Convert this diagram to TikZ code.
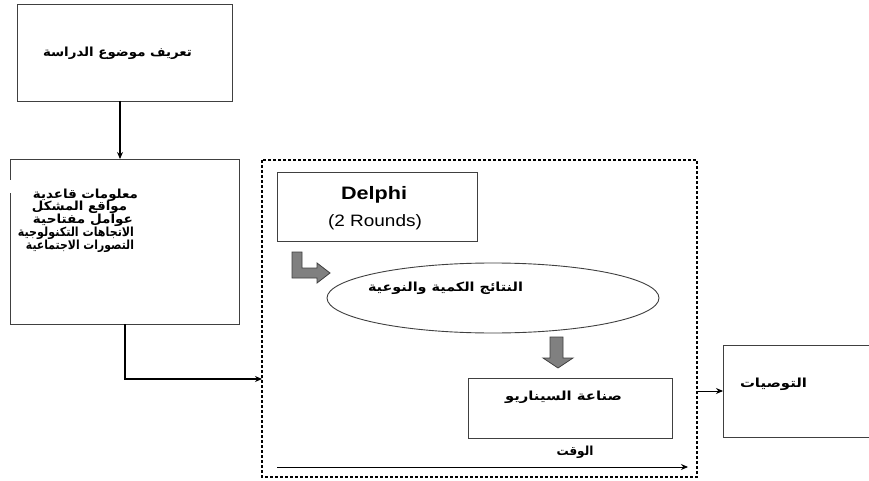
\documentclass[tikz,border=0pt]{standalone}
\usepackage{fontspec}
\usepackage{graphicx}
\setmainfont{Liberation Sans}
\newfontfamily\arabicfont[Script=Arabic]{DejaVu Sans}
\TeXXeTstate=1
\usetikzlibrary{arrows.meta}
\definecolor{arrowgray}{HTML}{808080}
\definecolor{arrowedge}{HTML}{3F3F3F}
\newcommand{\arw}[2]{\resizebox{#1pt}{\height}{#2}}
\begin{document}
\begin{tikzpicture}[x=1pt,y=-1pt,
  box/.style={draw=black!75,line width=0.9pt},
  lbl/.style={inner sep=0pt,font=\arabicfont\bfseries\fontsize{12.5}{14}\selectfont},
  conn/.style={draw=black,line width=1.1pt,-{Stealth[length=7pt,width=6pt]}},
  bigarrow/.style={fill=arrowgray,draw=arrowedge,line width=0.8pt}]
\useasboundingbox (0,0) rectangle (869,481);
\fill[white] (0,0) rectangle (869,481);
% boxes
\draw[box] (17,4) rectangle (232,101);
\node[lbl] (t1) at (117.5,53) {\arabicfont\arw{149}{\beginR تعريف موضوع الدراسة\endR}};
\coordinate (b1s) at (120,101);
\draw[box] (10,159) rectangle (239,324);
\draw[white,line width=2pt] (10,180) -- (10,193);
\coordinate (b2n) at (120,159);
\coordinate (b2s) at (125,324);
\node[lbl] (l1) at (85.5,195) {\arabicfont\arw{105}{\beginR معلومات قاعدية\endR}};
\node[lbl] (l2) at (79.5,207.5) {\arabicfont\arw{95}{\beginR مواقع المشكل\endR}};
\node[lbl] (l3) at (83,220) {\arabicfont\arw{100}{\beginR عوامل مفتاحية\endR}};
\node[lbl] (l4) at (76,233) {\arabicfont\arw{116}{\beginR الاتجاهات التكنولوجية\endR}};
\node[lbl] (l5) at (80,246) {\arabicfont\arw{108}{\beginR التصورات الاجتماعية\endR}};
% dashed frame
\draw[black,line width=1.4pt,densely dashed] (262,160) rectangle (697,477);
\coordinate (dw) at (262,379);
\coordinate (de) at (697,391);
% Delphi
\draw[box] (277,172) rectangle (477,241);
\node[inner sep=0pt] (delphi) at (374,195) {\scalebox{1.2}[1]{\fontsize{18}{20}\selectfont\bfseries Delphi}};
\node[inner sep=0pt] (rounds) at (375,222) {\scalebox{1.15}[1]{\fontsize{16.5}{18}\selectfont (2 Rounds)}};
% L arrow
\draw[bigarrow] (292,252) -- (302,252) -- (302,268) -- (317,268) -- (317,263) -- (330,273) -- (317,283) -- (317,278) -- (292,278) -- cycle;
% ellipse
\draw[black!75,line width=0.9pt] (493,298) ellipse [x radius=166, y radius=35];
\node[lbl] (t3) at (445.5,288) {\arabicfont\arw{155}{\beginR النتائج الكمية والنوعية\endR}};
% down arrow
\draw[bigarrow] (550,337) -- (563,337) -- (563,358) -- (573,358) -- (558,368) -- (543,358) -- (550,358) -- cycle;
% scenario
\draw[box] (468,378) rectangle (672,438);
\node[lbl] (t4) at (563.5,397) {\arabicfont\arw{117}{\beginR صناعة السيناريو\endR}};
% time
\node[lbl] (t5) at (575,452) {\arabicfont\arw{37}{\beginR الوقت\endR}};
\coordinate (ts) at (277,467);
\coordinate (te) at (688,467);
\draw[conn,line width=0.9pt] (ts) -- (te);
% recommendations
\draw[box] (723,345) -- (875,345) (723,345) -- (723,437) -- (875,437);
\coordinate (rw) at (723,391);
\node[lbl] (t6) at (773.5,384) {\arabicfont\arw{67}{\beginR التوصيات\endR}};
% connectors
\draw[conn] (b1s) -- (b2n);
\draw[conn] (b2s) |- (dw);
\draw[conn,line width=0.9pt] (de) -- (rw);
\end{tikzpicture}
\end{document}
